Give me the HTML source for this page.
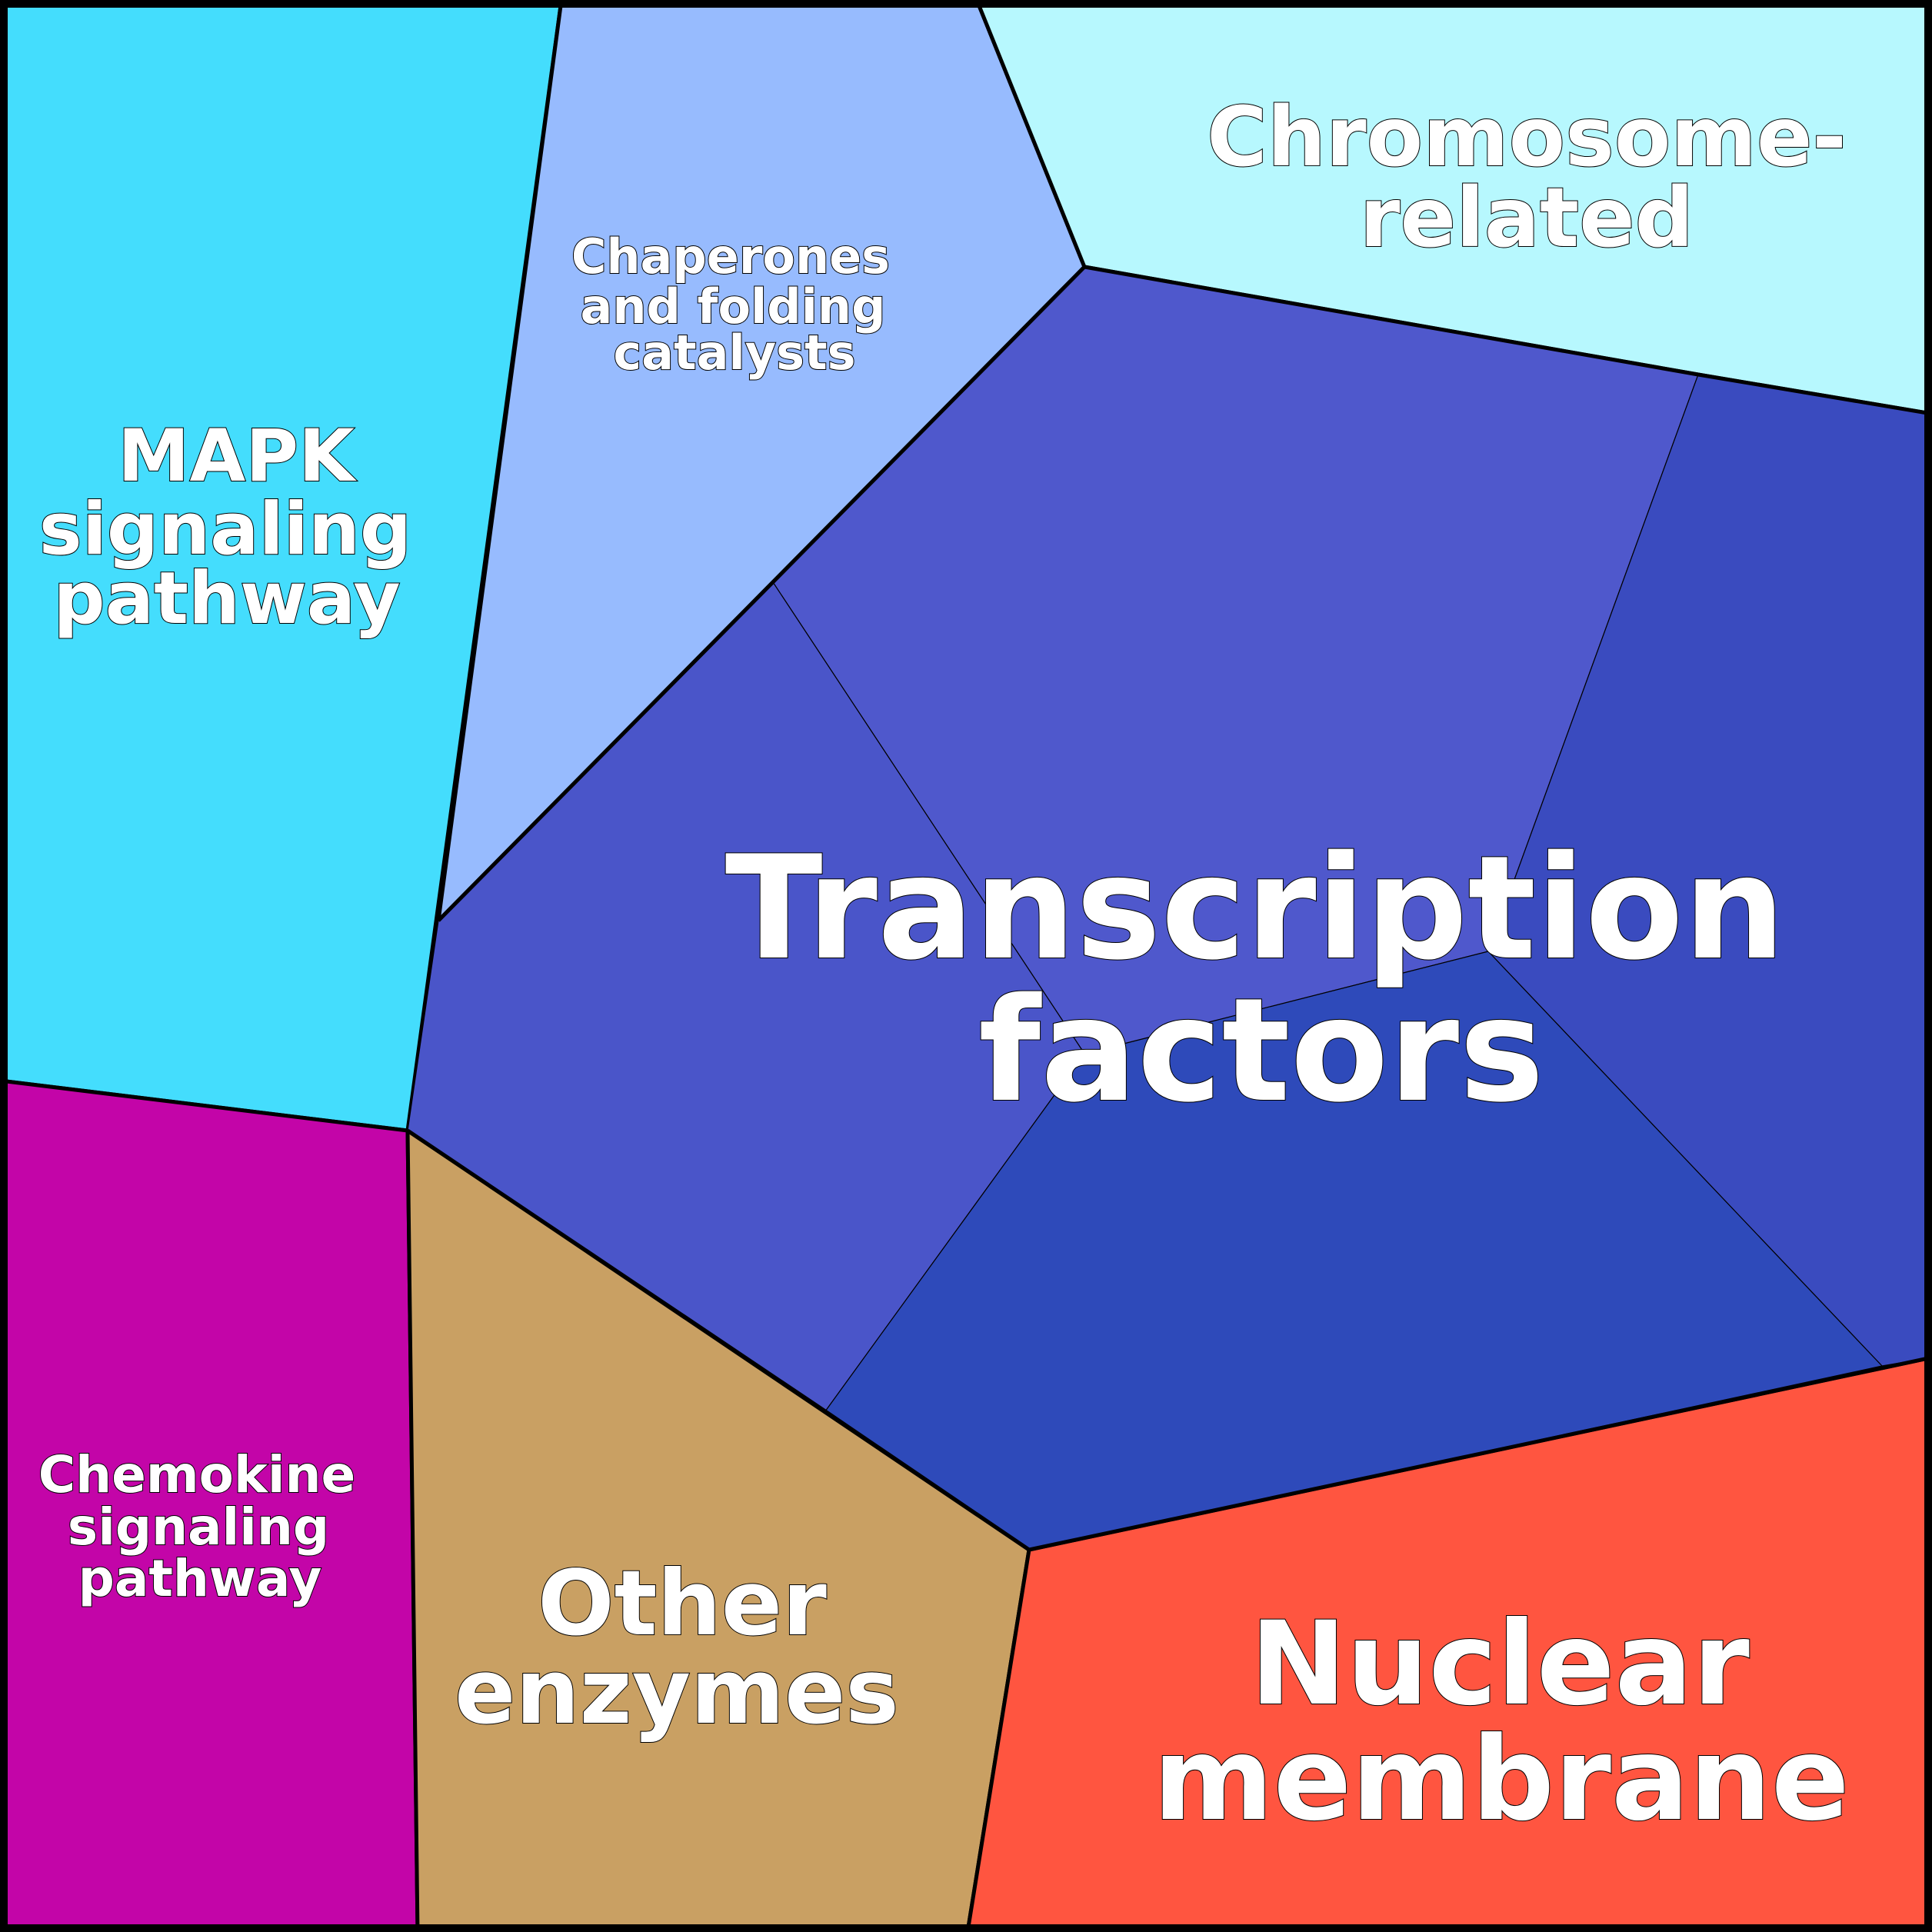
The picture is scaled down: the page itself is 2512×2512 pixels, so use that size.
<!DOCTYPE html>
<html><head><style>html,body{margin:0;padding:0;background:#fff}svg{display:block}
text{font-family:"DejaVu Sans","Liberation Sans",sans-serif;font-weight:bold;fill:#fff;stroke:#000;stroke-width:2;paint-order:stroke;text-anchor:middle}</style></head>
<body>
<svg width="2512" height="2512" viewBox="0 0 2512 2512" xmlns="http://www.w3.org/2000/svg">
<g stroke="#000" stroke-width="5" stroke-linejoin="round">
<polygon points="0,0 730,0 530,1470 0,1405" fill="#44ddfd"/>
<polygon points="730,0 1270,0 1410,347 570,1197" fill="#97bbfe"/>
<polygon points="1270,0 2512,0 2512,538 2208,487 1410,347" fill="#b7f8fe"/>
<polygon points="0,1405 530,1470 543,2512 0,2512" fill="#c305a8"/>
<polygon points="530,1470 1338,2015 1258,2512 543,2512" fill="#c9a063"/>
<polygon points="1338,2015 2512,1765 2512,2512 1258,2512" fill="#ff5540"/>
</g>
<g stroke="#000" stroke-width="1.2">
<polygon points="1410,347 2208,487 1935,1237 1410,1370 1005,757" fill="#4f58cc"/>
<polygon points="570,1197 1005,757 1410,1370 1073,1835 530,1470" fill="#4a55c9"/>
<polygon points="2208,487 2512,538 2512,1765 2447,1776 1935,1237" fill="#3a4bbf"/>
<polygon points="1410,1370 1935,1237 2447,1776 1338,2015 1073,1835" fill="#2e4aba"/>
</g>
<polyline points="570,1197 1410,347 2208,487 2512,538" fill="none" stroke="#000" stroke-width="5"/>
<polyline points="530,1470 1073,1835 1338,2015 2512,1765" fill="none" stroke="#000" stroke-width="5"/>
<rect x="5" y="5" width="2502" height="2502" fill="none" stroke="#000" stroke-width="10"/>
<text font-size="186" x="1632" y="1245">Transcription</text>
<text font-size="186" x="1640" y="1430">factors</text>
<text font-size="150" x="1950" y="2215">Nuclear</text>
<text font-size="150" x="1952" y="2365">membrane</text>
<text font-size="117" x="887" y="2125">Other</text>
<text font-size="117" x="880" y="2240">enzymes</text>
<text font-size="107" x="1985" y="215">Chromosome-</text>
<text font-size="107" x="1985" y="320">related</text>
<text font-size="94" x="307" y="625">MAPK</text>
<text font-size="94" x="293" y="720">signaling</text>
<text font-size="94" x="295" y="810">pathway</text>
<text font-size="62" x="950" y="355">Chaperones</text>
<text font-size="62" x="953" y="420">and folding</text>
<text font-size="62" x="955" y="480">catalysts</text>
<text font-size="66" x="256" y="1940">Chemokine</text>
<text font-size="66" x="258" y="2008">signaling</text>
<text font-size="66" x="260" y="2075">pathway</text>
</svg>
</body></html>
